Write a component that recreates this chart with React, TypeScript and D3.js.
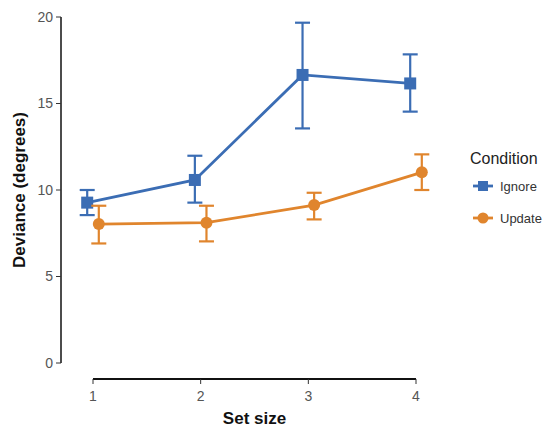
import React from 'react';
import * as d3 from 'd3';

const setSizes = [1, 2, 3, 4];
const ignoreMean = [9.27, 10.58, 16.65, 16.16];
const ignoreLow = [8.55, 9.27, 13.56, 14.53];
const ignoreHigh = [10.0, 11.98, 19.67, 17.84];
const updateMean = [8.03, 8.11, 9.13, 11.02];
const updateLow = [6.91, 7.03, 8.3, 10.0];
const updateHigh = [9.09, 9.09, 9.84, 12.06];
const yTicks = [0, 5, 10, 15, 20];
const conditions = ['Ignore', 'Update'];

const colors = { Ignore: '#3b6db4', Update: '#e0852d' };
const font = 'Arial, "Liberation Sans", sans-serif';

const width = 556;
const height = 432;

const App = () => {
  const x = d3.scaleLinear().domain([1, 4]).range([93, 416]);
  const y = d3.scaleLinear().domain([0, 20]).range([363, 17]);
  const dodge = 5.8;

  const series = [
    { name: 'Ignore', mean: ignoreMean, low: ignoreLow, high: ignoreHigh, off: -dodge },
    { name: 'Update', mean: updateMean, low: updateLow, high: updateHigh, off: dodge },
  ];

  const line = d3.line<[number, number]>().x(d => d[0]).y(d => d[1]);

  return (
    <svg width={width} height={height} style={{ position: 'absolute', left: 0, top: 0 }}>
      <rect width={width} height={height} fill="#fff" />
      {/* y axis */}
      <line x1={61} x2={61} y1={y(20)} y2={y(0)} stroke="#111" strokeWidth={1.5} />
      {yTicks.map(t => (
        <g key={t}>
          <line x1={56} x2={61} y1={y(t)} y2={y(t)} stroke="#333" strokeWidth={1} />
          <text x={53} y={y(t)} dy="0.35em" textAnchor="end" fontSize={14} fill="#555" fontFamily={font}>{t}</text>
        </g>
      ))}
      <text transform={`translate(25,${y(10)}) rotate(-90)`} textAnchor="middle" fontSize={17} fontWeight="bold" fill="#111" fontFamily={font}>Deviance (degrees)</text>
      {/* x axis */}
      <line x1={x(1)} x2={x(4)} y1={379} y2={379} stroke="#111" strokeWidth={2} />
      {setSizes.map(s => (
        <g key={s}>
          <line x1={x(s)} x2={x(s)} y1={379} y2={384} stroke="#333" strokeWidth={1} />
          <text x={x(s)} y={401} textAnchor="middle" fontSize={14} fill="#555" fontFamily={font}>{s}</text>
        </g>
      ))}
      <text x={x(2.5)} y={424} textAnchor="middle" fontSize={17} fontWeight="bold" fill="#111" fontFamily={font}>Set size</text>
      {/* series */}
      {series.map(s => {
        const c = colors[s.name];
        const pts = setSizes.map((v, i) => [x(v) + s.off, y(s.mean[i])] as [number, number]);
        return (
          <g key={s.name}>
            <path d={line(pts) || ''} fill="none" stroke={c} strokeWidth={2.8} />
            {setSizes.map((v, i) => {
              const cx = x(v) + s.off;
              return (
                <g key={i} stroke={c} strokeWidth={2.2}>
                  <line x1={cx} x2={cx} y1={y(s.low[i])} y2={y(s.high[i])} />
                  <line x1={cx - 7.5} x2={cx + 7.5} y1={y(s.low[i])} y2={y(s.low[i])} />
                  <line x1={cx - 7.5} x2={cx + 7.5} y1={y(s.high[i])} y2={y(s.high[i])} />
                </g>
              );
            })}
            {pts.map((p, i) =>
              s.name === 'Ignore'
                ? <rect key={i} x={p[0] - 6} y={p[1] - 6} width={12} height={12} fill={c} />
                : <circle key={i} cx={p[0]} cy={p[1]} r={6} fill={c} />
            )}
          </g>
        );
      })}
      {/* legend */}
      <text x={470} y={164} fontSize={16} fill="#222" fontFamily={font}>Condition</text>
      {conditions.map((n, i) => {
        const cy = 186 + i * 32;
        const c = colors[n];
        return (
          <g key={n}>
            <line x1={473} x2={493} y1={cy} y2={cy} stroke={c} strokeWidth={2.8} />
            {n === 'Ignore'
              ? <rect x={478} y={cy - 5} width={10} height={10} fill={c} />
              : <circle cx={483} cy={cy} r={5.5} fill={c} />}
            <text x={500} y={cy} dy="0.35em" fontSize={13} fill="#333" fontFamily={font}>{n}</text>
          </g>
        );
      })}
    </svg>
  );
};

export default App;
